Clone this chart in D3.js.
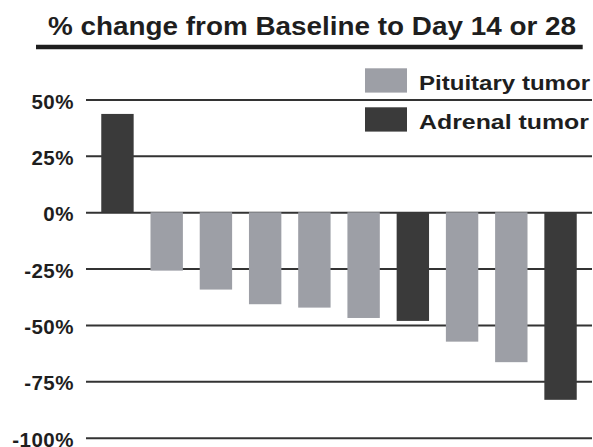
<!DOCTYPE html>
<html>
<head>
<meta charset="utf-8">
<script src="https://cdn.jsdelivr.net/npm/d3@7"></script>
<style>
  html, body { margin: 0; padding: 0; background: #fff; }
  svg { display: block; font-family: "Liberation Sans", Arial, sans-serif; }
</style>
</head>
<body>
<svg id="chart" width="593" height="447"></svg>
<script>
const titleText = "% change from Baseline to Day 14 or 28";
const categories = ["P1","P2","P3","P4","P5","P6","P7","P8","P9","P10"];
const values = [43.6, -25.9, -34.3, -40.8, -42.3, -46.9, -48.2, -57.4, -66.5, -83.2];
const tumorTypes = ["Adrenal","Pituitary","Pituitary","Pituitary","Pituitary","Pituitary","Adrenal","Pituitary","Pituitary","Adrenal"];
const seriesNames = ["Pituitary","Adrenal"];
const seriesLabels = ["Pituitary tumor","Adrenal tumor"];
const tickValues = [50, 25, 0, -25, -50, -75, -100];
const tickLabels = ["50%","25%","0%","-25%","-50%","-75%","-100%"];

const colors = { Pituitary: "#9d9fa6", Adrenal: "#3a3a3a" };

const svg = d3.select("#chart");
const plotLeft = 86, plotRight = 592, plotTop = 99.5, plotBottom = 437.7;

const x = d3.scaleBand().domain(categories).range([plotLeft, plotRight]).paddingInner(0.342).paddingOuter(0.31);
const y = d3.scaleLinear().domain([-100, 50]).range([plotBottom, plotTop]);

// Title
svg.append("text")
  .attr("x", 48).attr("y", 34.5)
  .attr("font-size", 25).attr("font-weight", "bold").attr("fill", "#1e1e1e")
  .attr("textLength", 528).attr("lengthAdjust", "spacingAndGlyphs")
  .text(titleText);
svg.append("line")
  .attr("x1", 36).attr("x2", 582.7).attr("y1", 47).attr("y2", 47)
  .attr("stroke", "#1e1e1e").attr("stroke-width", 4.5);

// Grid + y labels
const axis = d3.axisLeft(y)
  .tickValues(tickValues)
  .tickSize(-(plotRight - plotLeft))
  .tickPadding(12)
  .tickFormat((d, i) => tickLabels[i]);
const gAxis = svg.append("g").attr("transform", `translate(${plotLeft},0)`).call(axis);
gAxis.select(".domain").remove();
gAxis.selectAll(".tick line").attr("stroke", "#333").attr("stroke-width", 2);
gAxis.selectAll(".tick text")
  .attr("font-size", 20.5).attr("font-weight", "bold").attr("fill", "#1e1e1e")
  .attr("font-family", "'Liberation Sans', Arial, sans-serif")
  .attr("letter-spacing", 0.5)
  .attr("x", -12).attr("dy", "0.42em");

// Bars
svg.append("g").selectAll("rect")
  .data(categories)
  .join("rect")
  .attr("x", d => x(d))
  .attr("width", x.bandwidth())
  .attr("y", (d, i) => y(Math.max(0, values[i])))
  .attr("height", (d, i) => Math.abs(y(values[i]) - y(0)))
  .attr("fill", (d, i) => colors[tumorTypes[i]]);

// Legend
const legendY = [68.3, 107.3];
const lg = svg.append("g");
seriesNames.forEach((s, i) => {
  lg.append("rect")
    .attr("x", 365).attr("y", legendY[i])
    .attr("width", 42).attr("height", 24.3)
    .attr("fill", colors[s]);
  lg.append("text")
    .attr("x", 419).attr("y", legendY[i] + 21.5)
    .attr("font-size", 20.5).attr("font-weight", "bold").attr("fill", "#1e1e1e")
    .attr("textLength", i === 0 ? 171 : 170).attr("lengthAdjust", "spacingAndGlyphs")
    .text(seriesLabels[i]);
});
</script>
</body>
</html>
